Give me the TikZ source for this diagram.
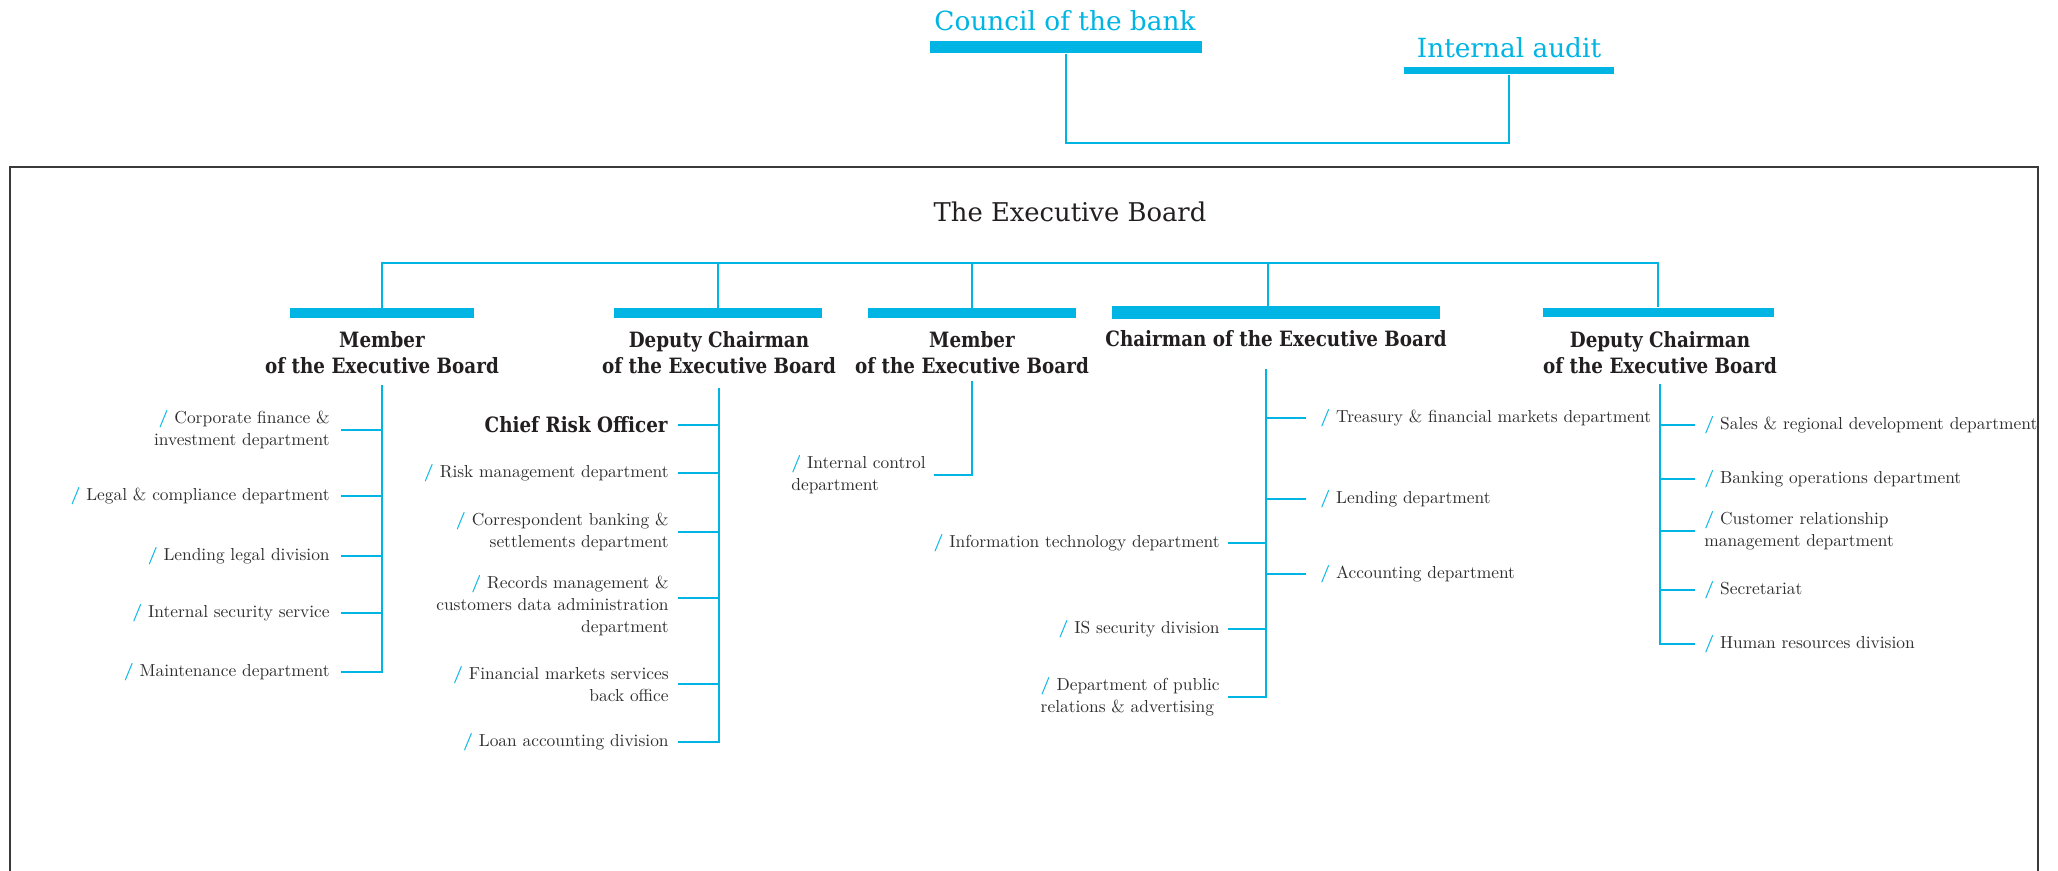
\documentclass[tikz,border=0pt]{standalone}
\usepackage{fontspec}
\newfontfamily\slabfont{DejaVu Serif}
\newfontfamily\headfont{DejaVu Serif}[FakeStretch=0.87]
\definecolor{bankcyan}{HTML}{00B4E3}
\definecolor{headtext}{HTML}{231F20}
\definecolor{bodytext}{HTML}{2E2E2E}
\definecolor{framegray}{HTML}{3A3A3A}
\begin{document}
\begin{tikzpicture}[
  bar/.style = {rectangle, fill = bankcyan, inner sep = 0pt, minimum height = 0.2cm},
  toplabel/.style = {anchor = base, inner sep = 0pt, text = bankcyan, font = \slabfont\fontsize{15}{18}\selectfont},
  heading/.style = {inner sep = 0pt, align = center, text = headtext, font = \headfont\bfseries\fontsize{12}{14.7}\selectfont},
  item/.style = {inner sep = 0pt, text = bodytext, font = \fontsize{9.9}{12.5}\selectfont},
  link/.style = {draw = bankcyan, line width = 1.2pt},
  branch/.style = {draw = bankcyan, line width = 1.5pt},
  boardframe/.style = {draw = framegray, line width = 1.3pt},
  x = 0.02cm,
  y = -0.02cm
]
  \useasboundingbox (0,0) rectangle (2058,871);

  \node[toplabel] (councilt) at (1065,31) {Council of the bank};
  \node[bar, minimum width = 5.46cm, minimum height = 0.25cm] (council) at (1066,47) {};
  \node[toplabel] (auditt) at (1509,58) {Internal audit};
  \node[bar, minimum width = 4.2cm, minimum height = 0.14cm] (audit) at (1509,71) {};
  \coordinate (auditcorner) at (1509,143);

  \draw[boardframe] (10,871) -- (10,167) -- (2038,167) -- (2038,871);
  \node[toplabel, text = headtext, font = \slabfont\fontsize{14.7}{18}\selectfont] (board) at (1070,222) {The Executive Board};

  \node[bar, minimum width = 3.68cm] (m1bar) at (382,313) {};
  \node[bar, minimum width = 4.18cm] (d1bar) at (718,313) {};
  \node[bar, minimum width = 4.18cm] (m2bar) at (972,313) {};
  \node[bar, minimum width = 6.56cm, minimum height = 0.26cm] (chbar) at (1276,312.5) {};
  \node[bar, minimum width = 4.62cm] (d2bar) at (1658,312.5) {};
  \coordinate (bus) at (1070,263);

  \node[heading, anchor = north] (m1h) at (382,331) {Member\\of the Executive Board};
  \node[heading, anchor = north] (d1h) at (719,331) {Deputy Chairman\\of the Executive Board};
  \node[heading, anchor = north] (m2h) at (972,331) {Member\\of the Executive Board};
  \node[heading, anchor = base] (chh) at (1276,347) {Chairman of the Executive Board};
  \node[heading, anchor = north] (d2h) at (1660,331) {Deputy Chairman\\of the Executive Board};
  \coordinate (chspine) at (1266,369);

  \node[item, anchor = east, align = right] (cfi) at (330,430) {\textcolor{bankcyan}{\textbf{/}} Corporate finance \&\\investment department};
  \node[item, anchor = east] (lcd) at (330,496) {\textcolor{bankcyan}{\textbf{/}} Legal \& compliance department};
  \node[item, anchor = east] (lld) at (330,556) {\textcolor{bankcyan}{\textbf{/}} Lending legal division};
  \node[item, anchor = east] (iss) at (330,613) {\textcolor{bankcyan}{\textbf{/}} Internal security service};
  \node[item, anchor = east] (mnt) at (330,672) {\textcolor{bankcyan}{\textbf{/}} Maintenance department};

  \node[heading, anchor = east] (cro) at (668,425) {Chief Risk Officer};
  \node[item, anchor = east] (rmd) at (669,473) {\textcolor{bankcyan}{\textbf{/}} Risk management department};
  \node[item, anchor = east, align = right] (cbs) at (669,532) {\textcolor{bankcyan}{\textbf{/}} Correspondent banking \&\\settlements department};
  \node[item, anchor = east, align = right] (rmc) at (669,606) {\textcolor{bankcyan}{\textbf{/}} Records management \&\\customers data administration\\department};
  \node[item, anchor = east, align = right] (fms) at (669,684) {\textcolor{bankcyan}{\textbf{/}} Financial markets services\\back office};
  \node[item, anchor = east] (lad) at (669,742) {\textcolor{bankcyan}{\textbf{/}} Loan accounting division};

  \node[item, anchor = east, align = left] (icd) at (926,475) {\textcolor{bankcyan}{\textbf{/}} Internal control\\department};

  \node[item, anchor = west] (tfm) at (1320,418) {\textcolor{bankcyan}{\textbf{/}} Treasury \& financial markets department};
  \node[item, anchor = west] (ldp) at (1320,499) {\textcolor{bankcyan}{\textbf{/}} Lending department};
  \node[item, anchor = west] (acd) at (1320,574) {\textcolor{bankcyan}{\textbf{/}} Accounting department};
  \node[item, anchor = east] (itd) at (1220,543) {\textcolor{bankcyan}{\textbf{/}} Information technology department};
  \node[item, anchor = east] (isd) at (1220,629) {\textcolor{bankcyan}{\textbf{/}} IS security division};
  \node[item, anchor = east, align = left] (dpr) at (1220,697) {\textcolor{bankcyan}{\textbf{/}} Department of public\\relations \& advertising};

  \node[item, anchor = west] (srd) at (1704,425) {\textcolor{bankcyan}{\textbf{/}} Sales \& regional development department};
  \node[item, anchor = west] (bod) at (1704,479) {\textcolor{bankcyan}{\textbf{/}} Banking operations department};
  \node[item, anchor = west, align = left] (crm) at (1704,531) {\textcolor{bankcyan}{\textbf{/}} Customer relationship\\management department};
  \node[item, anchor = west] (sec) at (1704,590) {\textcolor{bankcyan}{\textbf{/}} Secretariat};
  \node[item, anchor = west] (hrd) at (1704,644) {\textcolor{bankcyan}{\textbf{/}} Human resources division};

  \draw[link] (council.south) |- (auditcorner) -- (audit.south);
  \draw[link] (m1bar.north) |- (bus) -| (d2bar.north);
  \draw[link] (d1bar.north) |- (bus);
  \draw[link] (m2bar.north) |- (bus);
  \draw[link] ([xshift = -0.16cm]chbar.north) |- (bus);

  \draw[branch] (m1h.south) ++(0,11) |- ([xshift = 0.22cm]mnt.east);
  \draw[branch] ([xshift = 0.22cm]cfi.east) -- (cfi.east -| m1h.south);
  \draw[branch] ([xshift = 0.22cm]lcd.east) -- (lcd.east -| m1h.south);
  \draw[branch] ([xshift = 0.22cm]lld.east) -- (lld.east -| m1h.south);
  \draw[branch] ([xshift = 0.22cm]iss.east) -- (iss.east -| m1h.south);

  \draw[branch] (d1h.south) ++(0,14) |- ([xshift = 0.18cm]lad.east);
  \draw[branch] ([xshift = 0.2cm]cro.east) -- (cro.east -| d1h.south);
  \draw[branch] ([xshift = 0.18cm]rmd.east) -- (rmd.east -| d1h.south);
  \draw[branch] ([xshift = 0.18cm]cbs.east) -- (cbs.east -| d1h.south);
  \draw[branch] ([xshift = 0.18cm, yshift = 0.16cm]rmc.east) -- ++(40,0);
  \draw[branch] ([xshift = 0.18cm]fms.east) -- (fms.east -| d1h.south);

  \draw[branch] (m2h.south) ++(0,7) |- ([xshift = 0.16cm]icd.east);

  \draw[branch] (chspine) |- ([xshift = 0.16cm]dpr.east);
  \draw[branch] ([xshift = 0.16cm]itd.east) -- (itd.east -| chspine);
  \draw[branch] ([xshift = 0.16cm]isd.east) -- (isd.east -| chspine);
  \draw[branch] ([xshift = -0.28cm]tfm.west) -- (tfm.west -| chspine);
  \draw[branch] ([xshift = -0.28cm]ldp.west) -- (ldp.west -| chspine);
  \draw[branch] ([xshift = -0.28cm]acd.west) -- (acd.west -| chspine);

  \draw[branch] (d2h.south) ++(0,10) |- ([xshift = -0.18cm]hrd.west);
  \draw[branch] ([xshift = -0.18cm]srd.west) -- (srd.west -| d2h.south);
  \draw[branch] ([xshift = -0.18cm]bod.west) -- (bod.west -| d2h.south);
  \draw[branch] ([xshift = -0.18cm]crm.west) -- (crm.west -| d2h.south);
  \draw[branch] ([xshift = -0.18cm]sec.west) -- (sec.west -| d2h.south);
\end{tikzpicture}
\end{document}
